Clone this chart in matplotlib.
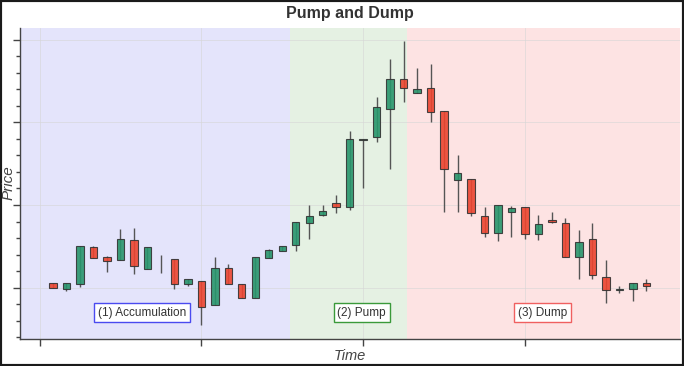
import matplotlib
matplotlib.use("Agg")
import matplotlib.pyplot as plt
from matplotlib.patches import Rectangle
from matplotlib.ticker import MultipleLocator, FixedLocator, NullFormatter
import numpy as np

plt.rcParams["font.family"] = ["Liberation Sans", "DejaVu Sans"]

# candle data (index = time step)
opens = [100.6, 99.9, 100.4, 104.9, 103.7, 103.3, 105.8, 102.3, 102.8, 103.5,
         100.4, 100.8, 97.9, 102.4, 100.5, 98.8, 103.6, 104.4, 105.2, 107.8,
         108.8, 110.3, 109.8, 117.9, 118.2, 121.6, 125.2, 123.6, 124.2, 121.4,
         113.0, 113.1, 108.7, 106.6, 109.2, 109.8, 106.5, 108.2, 107.8, 103.7,
         105.9, 101.3, 99.75, 99.8, 100.6]
closes = [100.0, 100.6, 105.1, 103.6, 103.2, 105.9, 102.6, 104.9, 102.8, 100.4,
          101.1, 97.7, 102.4, 100.5, 98.7, 103.7, 104.5, 105.1, 107.9, 108.7,
          109.3, 109.8, 118.0, 118.0, 121.8, 125.2, 124.1, 124.0, 121.2, 114.4,
          113.9, 109.0, 106.6, 110.0, 109.6, 106.5, 107.7, 108.0, 103.7, 105.5,
          101.5, 99.7, 99.85, 100.6, 100.2]
highs = [100.6, 100.6, 105.1, 105.0, 103.8, 107.1, 107.2, 104.9, 103.9, 103.5,
         101.1, 100.8, 103.7, 102.9, 100.5, 103.7, 104.7, 105.1, 107.9, 110.0,
         110.0, 111.2, 119.0, 118.0, 123.0, 127.6, 129.8, 126.6, 127.0, 121.4,
         116.0, 113.1, 109.8, 110.0, 109.9, 109.8, 108.8, 109.2, 108.4, 107.0,
         107.8, 103.3, 100.2, 100.6, 101.05]
lows = [100.0, 99.55, 100.1, 103.6, 101.85, 103.3, 101.7, 102.3, 101.8, 99.9,
        100.2, 95.5, 97.9, 100.5, 98.7, 98.8, 103.6, 104.4, 104.4, 105.9,
        108.7, 109.0, 109.4, 112.05, 117.6, 114.3, 122.4, 123.6, 120.0, 109.2,
        109.2, 108.7, 106.1, 105.6, 106.1, 105.9, 105.8, 107.8, 103.7, 101.05,
        101.05, 98.15, 99.3, 98.35, 99.55]

# phases
phase_labels = ["(1) Accumulation", "(2) Pump", "(3) Dump"]
phase_edges = [-2.45, 17.55, 26.25, 46.5]
phase_bg = ["#e4e4fb", "#e5f1e3", "#fde3e3"]
phase_ec = ["#4a4af0", "#3a9a3a", "#f06060"]
label_x = [6.6, 22.9, 36.3]
label_y = 97.0

green = "#28966c"
red = "#ec4530"

fig = plt.figure(figsize=(6.84, 3.66), dpi=100)
ax = fig.add_axes([0.0292, 0.0738, 0.965, 0.8497])

for i in range(3):
    ax.axvspan(phase_edges[i], phase_edges[i + 1], color=phase_bg[i], zorder=0, lw=0)
    ax.text(label_x[i], label_y, phase_labels[i], ha="center", va="center",
            fontsize=8.5, color="#333333", zorder=5,
            bbox=dict(boxstyle="square,pad=0.3", fc="white", ec=phase_ec[i], lw=1))

x = np.arange(len(opens))
o = np.array(opens)
c = np.array(closes)
ax.vlines(x, lows, highs, color="#555555", lw=1, zorder=2)
up = c > o
down = c < o
ax.bar(x[up], (c - o)[up], bottom=o[up], width=0.55, color=green,
       edgecolor="#333333", lw=0.8, alpha=0.9, zorder=3)
ax.bar(x[down], (o - c)[down], bottom=c[down], width=0.55, color=red,
       edgecolor="#333333", lw=0.8, alpha=0.9, zorder=3)

ax.set_xlim(phase_edges[0], phase_edges[-1])
ax.set_ylim(93.8, 131.4)

ax.xaxis.set_major_locator(FixedLocator([-1, 11, 23, 35]))
ax.yaxis.set_major_locator(MultipleLocator(10))
ax.yaxis.set_minor_locator(MultipleLocator(2))
ax.xaxis.set_major_formatter(NullFormatter())
ax.yaxis.set_major_formatter(NullFormatter())
ax.tick_params(axis="both", which="major", length=5, width=1, color="#444444")
ax.tick_params(axis="y", which="minor", length=3, width=1, color="#444444")
ax.grid(True, which="major", color="#d6d6d6", lw=0.6, alpha=0.7)
ax.set_axisbelow(True)

for s in ["top", "right"]:
    ax.spines[s].set_visible(False)
for s in ["left", "bottom"]:
    ax.spines[s].set_color("#444444")
    ax.spines[s].set_linewidth(1)

fig.text(0.512, 0.963, "Pump and Dump", ha="center", va="center",
         fontsize=11.5, fontweight="bold", color="#333333")
fig.text(0.0125, 0.5, "Price", ha="center", va="center", rotation=90,
         fontsize=11, style="italic", color="#444444")
fig.text(0.512, 0.028, "Time", ha="center", va="center",
         fontsize=10.5, style="italic", color="#444444")

fig.add_artist(Rectangle((0, 0), 1, 1, transform=fig.transFigure, fill=False,
                         ec="#1a1a1a", lw=3))

fig.savefig("out.png", dpi=100)
